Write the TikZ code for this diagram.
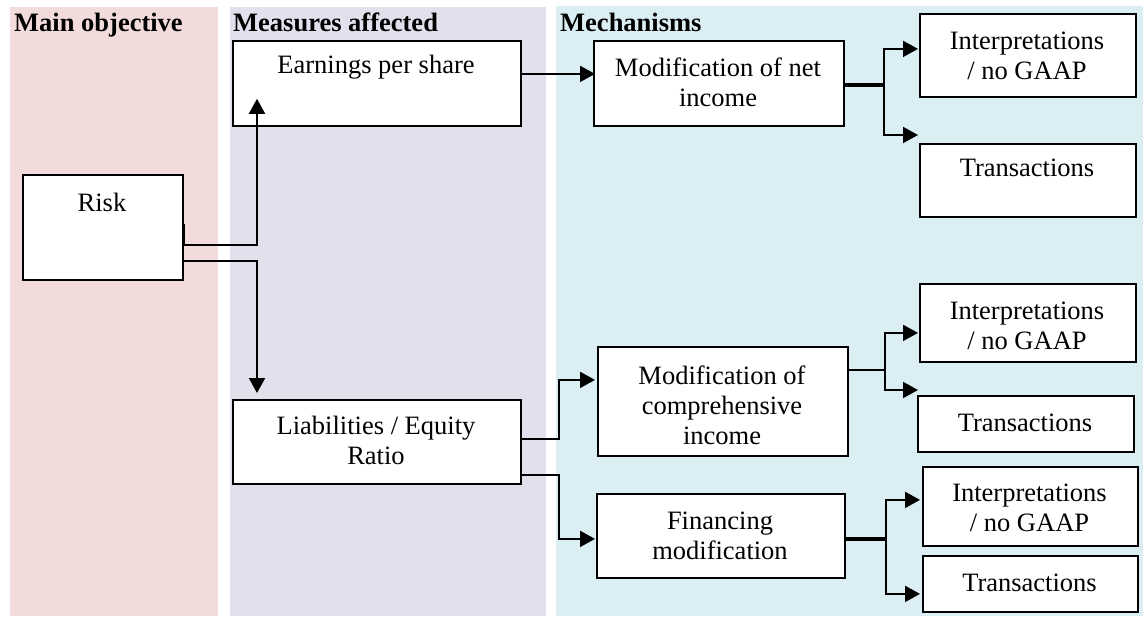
\documentclass[tikz,border=0pt]{standalone}
\usepackage{fontspec}
\setmainfont{Liberation Serif}
\usetikzlibrary{arrows.meta,calc}
\definecolor{colpink}{HTML}{F2DCDB}
\definecolor{collav}{HTML}{E4DFEC}
\definecolor{colblue}{HTML}{DAEEF3}
\begin{document}
\begin{tikzpicture}[x=1pt,y=-1pt,
  box/.style={draw=black, line width=1.8pt, fill=white, inner sep=0pt, anchor=north west},
  txt/.style={font=\fontsize{26.5pt}{30pt}\selectfont, align=center, inner sep=0pt},
  head/.style={font=\fontsize{26.5pt}{30pt}\selectfont\bfseries, anchor=base west, inner sep=0pt},
  conn/.style={draw=black, line width=2pt, -{Triangle[length=15pt,width=16pt]}},
  plainline/.style={draw=black, line width=2pt},
  thickline/.style={draw=black, line width=4pt}]

% canvas and the three columns
\useasboundingbox (0,0) rectangle (1143,618);
\fill[white] (0,0) rectangle (1143,618);
\fill[colpink] (10,7) rectangle (218,616);
\fill[collav] (230,7) rectangle (546,616);
\fill[colblue] (556,6) rectangle (1143,616);

% column headings
\node[head] (h-main) at (14,32) {Main objective};
\node[head] (h-meas) at (233,32) {Measures affected};
\node[head] (h-mech) at (560,32) {Mechanisms};

% boxes
\node[box, minimum width=160pt, minimum height=105pt] (risk) at (22,174) {};
\node[box, minimum width=288pt, minimum height=85pt] (eps) at (232,40) {};
\node[box, minimum width=288pt, minimum height=84pt] (lev) at (232,399) {};
\node[box, minimum width=250pt, minimum height=85pt] (modni) at (593,40) {};
\node[box, minimum width=250pt, minimum height=109pt] (modci) at (597,346) {};
\node[box, minimum width=248pt, minimum height=84pt] (fin) at (596,493) {};
\node[box, minimum width=216pt, minimum height=83pt] (int1) at (919,13) {};
\node[box, minimum width=216pt, minimum height=73pt] (tr1) at (919,143) {};
\node[box, minimum width=216pt, minimum height=78pt] (int2) at (919,283) {};
\node[box, minimum width=216pt, minimum height=56pt] (tr2) at (917,395) {};
\node[box, minimum width=215pt, minimum height=79pt] (int3) at (922,466) {};
\node[box, minimum width=215pt, minimum height=56pt] (tr3) at (922,555) {};

% box texts
\node[txt] (risk-t) at (102,202) {Risk};
\node[txt] (eps-t) at (376,67) {Earnings per share};
\node[txt] (lev-t) at (376,440) {Liabilities / Equity\\Ratio};
\node[txt] (modni-t) at (718,82) {Modification of net\\income};
\node[txt] (modci-t) at (722,405) {Modification of\\comprehensive\\income};
\node[txt] (fin-t) at (720,536) {Financing\\modification};
\node[txt] (int1-t) at (1027,56) {Interpretations\\/ no GAAP};
\node[txt] (tr1-t) at (1027,168) {Transactions};
\node[txt] (int2-t) at (1027,326) {Interpretations\\/ no GAAP};
\node[txt] (tr2-t) at (1025,423) {Transactions};
\node[txt] (int3-t) at (1029.5,508) {Interpretations\\/ no GAAP};
\node[txt] (tr3-t) at (1029.5,583) {Transactions};

% risk to the two measures
\draw[conn] ($(risk.east)+(0,-3)$) -- ++(0,21) -| ($(eps.south west)+(25,-28)$);
\draw[conn] ($(risk.east)+(0,33.5)$) -| ($(lev.north west)+(25,-6)$);

% measures to mechanisms
\draw[conn] ($(eps.east)+(0,-9.5)$) -- ($(modni.west)+(2,-9.5)$);
\draw[conn] ($(lev.east)+(0,-3)$) -- ++(37,0) |- ($(modci.west)+(-2,-21.5)$);
\draw[conn] ($(lev.east)+(0,33)$) -- ++(37,0) |- ($(fin.west)+(-1,3)$);

% net income branches
\coordinate (j1) at ($(modni.east)+(39,1.5)$);
\draw[thickline] ($(modni.east)+(0,1.5)$) -- (j1);
\draw[conn] (j1) |- ($(int1.west)+(-1,-6.5)$);
\draw[conn] (j1) |- ($(tr1.north west)+(-1,-8)$);

% comprehensive income branches
\coordinate (j2) at ($(modci.east)+(36,-31.5)$);
\draw[plainline] ($(modci.east)+(0,-31.5)$) -- (j2);
\draw[conn] (j2) |- ($(int2.west)+(-1,10)$);
\draw[conn] (j2) |- ($(tr2.north west)+(1,-5)$);

% financing branches
\coordinate (j3) at ($(fin.east)+(40,3)$);
\draw[thickline] ($(fin.east)+(0,3)$) -- (j3);
\draw[conn] (j3) |- ($(int3.west)+(-2,-6.5)$);
\draw[conn] (j3) |- ($(tr3.west)+(-2,10)$);
\end{tikzpicture}
\end{document}
